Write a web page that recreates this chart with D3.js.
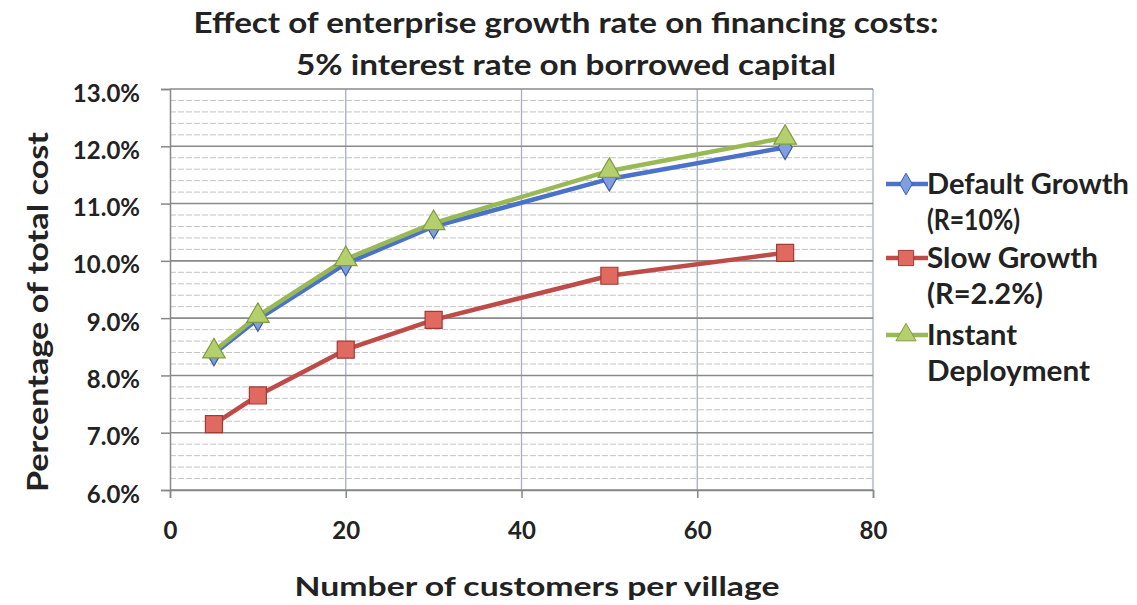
<!DOCTYPE html>
<html>
<head>
<meta charset="utf-8">
<script src="https://cdn.jsdelivr.net/npm/d3@7"></script>
<style>
  html, body { margin: 0; padding: 0; background: #fff; }
  svg { display: block; font-family: Lato, "Open Sans", sans-serif; font-weight: bold; }
</style>
</head>
<body>
<svg id="chart" width="1137" height="605"></svg>
<script>
// Customers per village (x values)
const customers = [5, 10, 20, 30, 50, 70];
// Financing cost as percentage of total cost
const defaultGrowth = [8.38, 8.98, 9.95, 10.60, 11.43, 11.98];
const slowGrowth    = [7.15, 7.65, 8.45, 8.97, 9.74, 10.14];
const instantDeploy = [8.42, 9.04, 10.03, 10.66, 11.57, 12.15];

const seriesNames = ["Default Growth", "Slow Growth", "Instant Deployment"];
const legendLines = [["Default Growth", "(R=10%)"], ["Slow Growth", "(R=2.2%)"], ["Instant", "Deployment"]];
const xTicks = [0, 20, 40, 60, 80];
const yTicks = [6, 7, 8, 9, 10, 11, 12, 13];
const titleLines = ["Effect of enterprise growth rate on financing costs:", "5% interest rate on borrowed capital"];
const xTitle = "Number of customers per village";
const yTitle = "Percentage of total cost";

const series = [
  { name: seriesNames[0], values: defaultGrowth, color: "#4a72c8", fill: "#7f9fe0", stroke: "#3a5aa8", shape: d3.symbolDiamond, size: 170 },
  { name: seriesNames[1], values: slowGrowth,    color: "#bf4b48", fill: "#e06a60", stroke: "#a33a36", shape: d3.symbolSquare,  size: 290 },
  { name: seriesNames[2], values: instantDeploy, color: "#98b954", fill: "#b5cf6e", stroke: "#7f9c3e", shape: d3.symbolTriangle, size: 220 }
];

const svg = d3.select("#chart");
const plotL = 170, plotR = 873, plotT = 89, plotB = 490;

const x = d3.scaleLinear().domain([0, 80]).range([plotL, plotR]);
const y = d3.scaleLinear().domain([6, 13]).range([plotB, plotT]);

// Minor horizontal gridlines every 0.2%
const minor = d3.range(6, 13.001, 0.2).filter(v => Math.abs(v - Math.round(v)) > 1e-6);
svg.append("g").selectAll("line").data(minor).join("line")
  .attr("x1", plotL).attr("x2", plotR)
  .attr("y1", d => y(d)).attr("y2", d => y(d))
  .attr("stroke", "#c4c4c4").attr("stroke-width", 1).attr("stroke-dasharray", "6,2");

// Vertical gridlines
svg.append("g").selectAll("line").data(xTicks.slice(1)).join("line")
  .attr("x1", d => x(d)).attr("x2", d => x(d))
  .attr("y1", plotT).attr("y2", plotB)
  .attr("stroke", "#a8abcc").attr("stroke-width", 1.3);

// Major horizontal gridlines
svg.append("g").selectAll("line").data(yTicks).join("line")
  .attr("x1", plotL).attr("x2", plotR)
  .attr("y1", d => y(d)).attr("y2", d => y(d))
  .attr("stroke", "#8a8a8a").attr("stroke-width", 1.6);

// Axes
const yAxis = d3.axisLeft(y).tickValues(yTicks).tickSize(9).tickPadding(21)
  .tickFormat(d => d.toFixed(1) + "%");
const gy = svg.append("g").attr("transform", `translate(${plotL},0)`).call(yAxis);
const xAxis = d3.axisBottom(x).tickValues(xTicks).tickSize(8).tickPadding(24);
const gx = svg.append("g").attr("transform", `translate(0,${plotB})`).call(xAxis);
[gy, gx].forEach(g => {
  g.select(".domain").attr("stroke", "#888").attr("stroke-width", 1.5);
  g.selectAll(".tick line").attr("stroke", "#888").attr("stroke-width", 1.5);
  g.selectAll("text").attr("fill", "#222").attr("font-family", "Lato, sans-serif")
    .attr("font-weight", "bold").attr("font-size", 24);
});
gy.selectAll("text").attr("dy", "0.5em");

// Series lines and markers
const line = d3.line().x((d, i) => x(customers[i])).y(d => y(d));
series.forEach(s => {
  svg.append("path").datum(s.values)
    .attr("d", line).attr("fill", "none")
    .attr("stroke", s.color).attr("stroke-width", 4.5).attr("stroke-linejoin", "round");
});
series.forEach(s => {
  svg.append("g").selectAll("path").data(s.values).join("path")
    .attr("transform", (d, i) => `translate(${x(customers[i])},${y(d)})`)
    .attr("d", d3.symbol().type(s.shape).size(s.size))
    .attr("fill", s.fill).attr("stroke", s.stroke).attr("stroke-width", 1.2);
});

// Title
svg.append("g").selectAll("text").data(titleLines).join("text")
  .attr("x", 566).attr("y", (d, i) => 33 + i * 42)
  .attr("text-anchor", "middle").attr("font-size", 28).attr("fill", "#222")
  .attr("textLength", (d, i) => i === 0 ? 745 : 540).attr("lengthAdjust", "spacingAndGlyphs")
  .text(d => d);

// Axis titles
svg.append("text").attr("x", 537).attr("y", 596).attr("text-anchor", "middle")
  .attr("font-size", 27).attr("fill", "#222")
  .attr("textLength", 485).attr("lengthAdjust", "spacingAndGlyphs").text(xTitle);
svg.append("text").attr("transform", "translate(48,312) rotate(-90)").attr("text-anchor", "middle")
  .attr("font-size", 28).attr("fill", "#222")
  .attr("textLength", 360).attr("lengthAdjust", "spacingAndGlyphs").text(yTitle);

// Legend: each entry wraps onto two lines, text widened to fill the legend column
const legendWidths = [[202, 93], [171, 116], [90, 163]];
const legendBase = [194, 268, 345];
const legend = svg.append("g");
series.forEach((s, i) => {
  const ly = legendBase[i] - 10;
  legend.append("line").attr("x1", 886).attr("x2", 928).attr("y1", ly).attr("y2", ly)
    .attr("stroke", s.color).attr("stroke-width", 4.5);
  legend.append("path").attr("transform", `translate(906,${ly})`)
    .attr("d", d3.symbol().type(s.shape).size(s.size * 0.8))
    .attr("fill", s.fill).attr("stroke", s.stroke).attr("stroke-width", 1);
  legendLines[i].forEach((t, j) => {
    legend.append("text").attr("x", 927).attr("y", legendBase[i] + j * 36)
      .attr("font-size", 29).attr("fill", "#222")
      .attr("textLength", legendWidths[i][j]).attr("lengthAdjust", "spacingAndGlyphs")
      .text(t);
  });
});
</script>
</body>
</html>
